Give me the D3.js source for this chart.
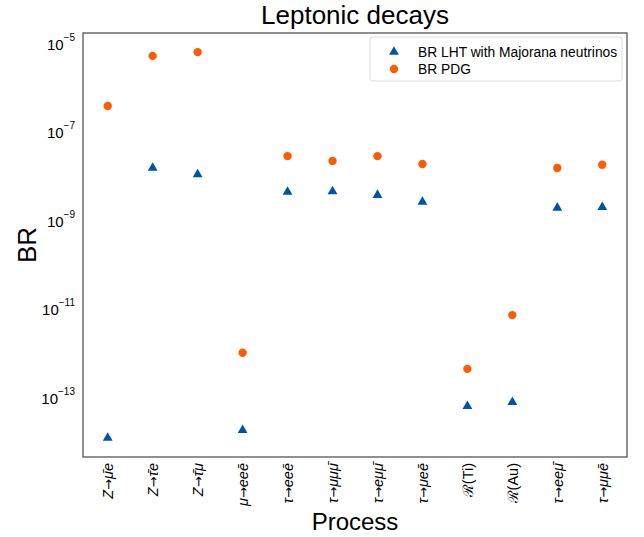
<!DOCTYPE html>
<html lang="en">
  <head>
    <meta charset="UTF-8" />
    <title>Leptonic decays</title>
    <style>
      body { margin: 0; background: #fff; }
      text { font-family: "Liberation Sans", Arial, sans-serif; }
    </style>
  </head>
  <body>
    <svg id="svg" width="644" height="537"></svg>

    <script src="https://cdn.jsdelivr.net/npm/d3@7"></script>
    <script>
      const WIDTH = 644;
      const HEIGHT = 537;
      const LEFT = 83;
      const RIGHT = 627;
      const TOP = 33;
      const BOTTOM = 457;

      // process labels (bars via combining macron)
      const PROCESSES = [
        "Z→μ̄e",
        "Z→τ̄e",
        "Z→τ̄μ",
        "μ→eeē",
        "τ→eeē",
        "τ→μμμ̄",
        "τ→eμμ̄",
        "τ→μeē",
        "ℛ(Ti)",
        "ℛ(Au)",
        "τ→eeμ̄",
        "τ→μμē",
      ];

      const BR_LHT = [
        1.07e-14, 1.35e-8, 9.7e-9, 1.6e-14, 3.9e-9, 4.0e-9,
        3.3e-9, 2.3e-9, 5.6e-14, 6.9e-14, 1.7e-9, 1.75e-9,
      ];
      const BR_PDG = [
        3.4e-7, 4.6e-6, 5.6e-6, 9e-13, 2.5e-8, 1.95e-8,
        2.5e-8, 1.66e-8, 3.9e-13, 6.4e-12, 1.35e-8, 1.6e-8,
      ];

      const Y_TICKS = [1e-5, 1e-7, 1e-9, 1e-11, 1e-13];
      const Y_TICK_EXP = ["−5", "−7", "−9", "−11", "−13"];

      const BLUE = "#0054a8";
      const ORANGE = "#ff5c00";

      const svg = d3.select("#svg");

      const xScale = d3
        .scaleLinear()
        .domain([-0.55, PROCESSES.length - 1 + 0.55])
        .range([LEFT, RIGHT]);

      const yScale = d3
        .scaleLog()
        .domain([Math.pow(10, -14.4), Math.pow(10, -4.82)])
        .range([BOTTOM, TOP]);

      // Frame
      svg
        .append("rect")
        .attr("x", LEFT)
        .attr("y", TOP)
        .attr("width", RIGHT - LEFT)
        .attr("height", BOTTOM - TOP)
        .attr("fill", "none")
        .attr("stroke", "#555")
        .attr("stroke-width", 1.3);

      // Left axis, no tick marks, exponent labels
      const leftAxis = d3
        .axisLeft(yScale)
        .tickValues(Y_TICKS)
        .tickSize(0)
        .tickPadding(8)
        .tickFormat(() => "");

      const yAxisG = svg
        .append("g")
        .attr("transform", `translate(${LEFT}, 0)`)
        .call(leftAxis);
      yAxisG.select(".domain").remove();
      yAxisG.selectAll(".tick text").each(function (d, i) {
        const t = d3
          .select(this)
          .attr("font-size", 15)
          .attr("fill", "#000")
          .attr("dy", "0.55em");
        t.append("tspan").text("10");
        t.append("tspan")
          .attr("font-size", 10)
          .attr("dy", "-0.9em")
          .text(Y_TICK_EXP[i]);
      });

      // Bottom axis with rotated category labels
      const bottomAxis = d3
        .axisBottom(xScale)
        .tickValues(d3.range(PROCESSES.length))
        .tickSize(0)
        .tickFormat(() => "");

      const xAxisG = svg
        .append("g")
        .attr("transform", `translate(0, ${BOTTOM})`)
        .call(bottomAxis);
      xAxisG.select(".domain").remove();
      xAxisG.selectAll(".tick text").each(function (i) {
        const t = d3
          .select(this)
          .attr("font-size", 14.5)
          .attr("fill", "#000")
          .attr("text-anchor", "end")
          .attr("transform", "rotate(-90)")
          .attr("x", -6)
          .attr("y", 0)
          .attr("dy", "0.35em");
        const label = PROCESSES[i];
        if (label.includes("→")) {
          const [a, b] = label.split("→");
          t.append("tspan").attr("font-style", "italic").text(a);
          t.append("tspan").attr("font-family", "DejaVu Sans").attr("font-size", 13).text("→");
          t.append("tspan").attr("font-style", "italic").text(b);
        } else {
          t.append("tspan").text(label);
        }
      });

      // Data points
      const tri = d3.symbol().type(d3.symbolTriangle).size(42);

      svg
        .append("g")
        .selectAll("path")
        .data(BR_LHT)
        .join("path")
        .attr("d", tri)
        .attr("transform", (d, i) => `translate(${xScale(i)}, ${yScale(d)})`)
        .attr("fill", BLUE);

      svg
        .append("g")
        .selectAll("circle")
        .data(BR_PDG)
        .join("circle")
        .attr("cx", (d, i) => xScale(i))
        .attr("cy", (d) => yScale(d))
        .attr("r", 4.2)
        .attr("fill", ORANGE);

      // Legend
      const legend = svg.append("g").attr("transform", "translate(370, 37)");
      legend
        .append("rect")
        .attr("width", 252)
        .attr("height", 44)
        .attr("rx", 3)
        .attr("fill", "#fff")
        .attr("stroke", "#ddd");
      legend
        .append("path")
        .attr("d", tri)
        .attr("transform", "translate(24, 15)")
        .attr("fill", BLUE);
      legend
        .append("circle")
        .attr("cx", 24)
        .attr("cy", 32)
        .attr("r", 4.2)
        .attr("fill", ORANGE);
      legend
        .append("text")
        .attr("x", 48)
        .attr("y", 15)
        .attr("dy", "0.35em")
        .attr("font-size", 13.8)
        .text("BR LHT with Majorana neutrinos");
      legend
        .append("text")
        .attr("x", 48)
        .attr("y", 32)
        .attr("dy", "0.35em")
        .attr("font-size", 13.8)
        .text("BR PDG");

      // Title and axis titles
      svg
        .append("text")
        .attr("x", (LEFT + RIGHT) / 2)
        .attr("y", 24)
        .attr("text-anchor", "middle")
        .attr("font-size", 26)
        .text("Leptonic decays");

      svg
        .append("text")
        .attr("x", (LEFT + RIGHT) / 2)
        .attr("y", 530)
        .attr("text-anchor", "middle")
        .attr("font-size", 24)
        .text("Process");

      svg
        .append("text")
        .attr("transform", `translate(36, ${(TOP + BOTTOM) / 2}) rotate(-90)`)
        .attr("text-anchor", "middle")
        .attr("font-size", 26)
        .text("BR");
    </script>
  </body>
</html>
